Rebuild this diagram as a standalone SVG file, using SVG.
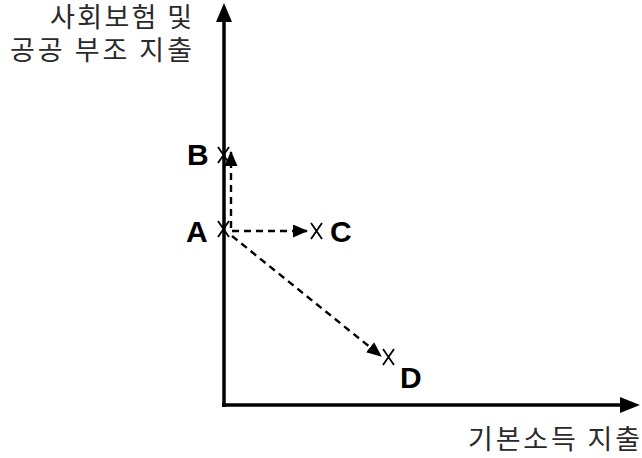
<svg xmlns="http://www.w3.org/2000/svg" width="642" height="458" viewBox="0 0 642 458">
<style>
.axis{stroke:#000;stroke-width:3.5;fill:none}
.dash{stroke:#000;stroke-width:2.4;stroke-dasharray:7 5;fill:none}
.lbl{font-family:"Noto Sans CJK KR","Noto Sans",sans-serif;font-size:27px;fill:#2a2a2a}
.pt{font-family:"Liberation Sans",Arial,sans-serif;font-size:30px;font-weight:bold;fill:#000}
.x{stroke:#000;stroke-width:1.8;fill:none}
</style>
<defs>
<marker id="dh" markerWidth="15" markerHeight="13" refX="14" refY="6.5" orient="auto" markerUnits="userSpaceOnUse"><path d="M0,0 L15,6.5 L0,13 Z" fill="#000"/></marker>
</defs>
<g id="axes">
<line class="axis" x1="224" y1="407" x2="224" y2="20"/>
<path d="M216,22 L224,3 L232,22 Z" fill="#000"/>
<line class="axis" x1="222" y1="405" x2="622" y2="405"/>
<path d="M620,397 L640,405 L620,413 Z" fill="#000"/>
</g>
<g id="axis-labels">
<text class="lbl" x="192" y="27" text-anchor="end" textLength="142" lengthAdjust="spacing">사회보험 및</text>
<text class="lbl" x="192" y="60" text-anchor="end" textLength="182" lengthAdjust="spacing">공공 부조 지출</text>
<text class="lbl" x="640" y="449" text-anchor="end" textLength="172" lengthAdjust="spacing">기본소득 지출</text>
</g>
<g id="node-B">
<path class="x" d="M218,147 L229,163 M229,147 L218,163"/>
<text class="pt" x="187" y="165">B</text>
</g>
<g id="node-A">
<path class="x" d="M218,221 L229,237 M229,221 L218,237"/>
<text class="pt" x="186" y="242">A</text>
</g>
<g id="node-C">
<path class="x" d="M311,223 L322,239 M322,223 L311,239"/>
<text class="pt" x="330" y="242">C</text>
</g>
<g id="node-D">
<path class="x" d="M383,349 L394,365 M394,349 L383,365"/>
<text class="pt" x="400" y="388">D</text>
</g>
<g id="connectors">
<line class="dash" x1="231" y1="228" x2="231" y2="152" marker-end="url(#dh)"/>
<line class="dash" x1="232" y1="231" x2="307" y2="231" marker-end="url(#dh)"/>
<line class="dash" x1="232" y1="236" x2="381" y2="356" marker-end="url(#dh)"/>
</g>
</svg>
